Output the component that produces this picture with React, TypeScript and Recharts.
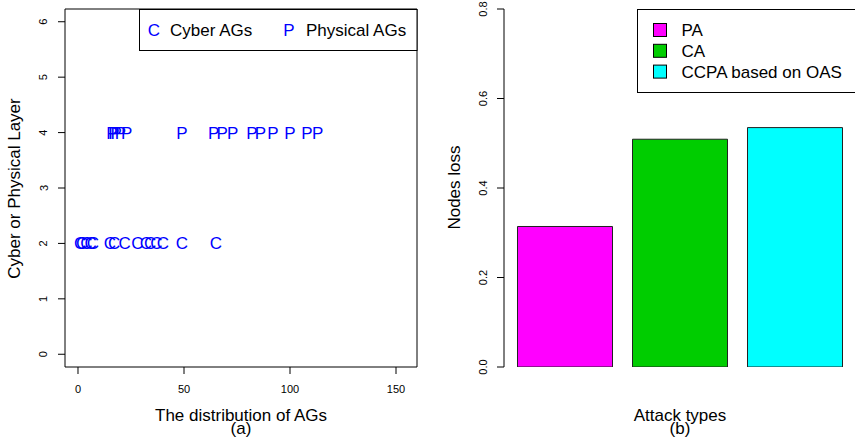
import React from "react";
import {
  Bar,
  BarChart,
  Cell,
  ReferenceArea,
  Scatter,
  ScatterChart,
  XAxis,
  YAxis
} from "recharts";

const FONT = "'Liberation Sans', Arial, Helvetica, sans-serif";

// (a) distribution of attack graphs: x position of each AG, layer 2 = cyber, 4 = physical
const cyberAGs = [1, 2, 4, 6, 7, 15, 17, 22, 28, 32, 34, 37, 40, 49, 65];
const physicalAGs = [16, 17, 18, 20, 23, 49, 64, 68, 73, 82, 86, 92, 100, 108, 113];
const CYBER_LAYER = 2;
const PHYSICAL_LAYER = 4;
const xTicksA = [0, 50, 100, 150];
const yTicksA = [0, 1, 2, 3, 4, 5, 6];

// (b) nodes loss per attack type
const attackTypes = ["PA", "CA", "CCPA based on OAS"];
const nodesLoss = [0.314, 0.509, 0.535];
const barColors = ["#ff00ff", "#00cd00", "#00ffff"];
const yTicksB = [0, 0.2, 0.4, 0.6, 0.8];

const cyberRows = cyberAGs.map((x) => ({ x, y: CYBER_LAYER }));
const physicalRows = physicalAGs.map((x) => ({ x, y: PHYSICAL_LAYER }));
const barRows = attackTypes.map((name, i) => ({ name, loss: nodesLoss[i] }));

const X_DOMAIN: [number, number] = [-6.13, 159.9];
const Y_DOMAIN: [number, number] = [-0.23, 6.23];

function RotatedTick(props: any) {
  const { x, y, payload, shift, digits } = props;
  const bx = x - shift;
  const v = digits ? Number(payload.value).toFixed(digits) : payload.value;
  return (
    <text
      x={bx}
      y={y}
      transform={`rotate(-90 ${bx} ${y})`}
      textAnchor="middle"
      fontSize={11}
      fontFamily={FONT}
      fill="#000"
    >
      {v}
    </text>
  );
}

function BottomTick(props: any) {
  const { x, y, payload } = props;
  return (
    <text x={x} y={y + 17} textAnchor="middle" fontSize={11} fontFamily={FONT} fill="#000">
      {payload.value}
    </text>
  );
}

function letter(ch: string) {
  return (props: any) => (
    <text
      x={props.cx}
      y={props.cy + 6}
      textAnchor="middle"
      fontSize={17}
      fontFamily={FONT}
      fill="#0000ff"
    >
      {ch}
    </text>
  );
}

export default function App() {
  return (
    <div
      style={{
        position: "absolute",
        left: 0,
        top: 0,
        width: 855,
        height: 442,
        overflow: "hidden",
        background: "#fff",
        fontFamily: FONT
      }}
    >
      <div style={{ position: "absolute", left: 0, top: 0 }}>
        <ScatterChart
          width={430}
          height={442}
          margin={{ top: 9, right: 13, bottom: 0, left: 0 }}
        >
          <XAxis
            type="number"
            dataKey="x"
            domain={X_DOMAIN}
            ticks={xTicksA}
            allowDataOverflow
            axisLine={false}
            tickLine={{ stroke: "#000" }}
            tickSize={7}
            height={75}
            tick={<BottomTick />}
            interval={0}
          />
          <YAxis
            type="number"
            dataKey="y"
            domain={Y_DOMAIN}
            ticks={yTicksA}
            allowDataOverflow
            axisLine={false}
            tickLine={{ stroke: "#000" }}
            tickSize={7}
            width={65}
            tick={<RotatedTick shift={8.5} />}
            interval={0}
          />
          <ReferenceArea
            x1={X_DOMAIN[0]}
            x2={X_DOMAIN[1]}
            y1={Y_DOMAIN[0]}
            y2={Y_DOMAIN[1]}
            fill="none"
            stroke="#000"
            strokeWidth={1}
            ifOverflow="visible"
          />
          <Scatter
            name="Cyber AGs"
            data={cyberRows}
            shape={letter("C")}
            isAnimationActive={false}
          />
          <Scatter
            name="Physical AGs"
            data={physicalRows}
            shape={letter("P")}
            isAnimationActive={false}
          />
        </ScatterChart>
      </div>

      <div style={{ position: "absolute", left: 430, top: 0 }}>
        <BarChart
          width={430}
          height={442}
          data={barRows}
          margin={{ top: 9, right: 4, bottom: 75, left: 0 }}
        >
          <XAxis dataKey="name" hide padding={{ left: 3.5, right: 3.5 }} />
          <YAxis
            type="number"
            domain={[0, 0.8]}
            ticks={yTicksB}
            allowDataOverflow
            axisLine={{ stroke: "#000" }}
            tickLine={{ stroke: "#000" }}
            tickSize={7}
            width={74}
            tick={<RotatedTick shift={8} digits={1} />}
            interval={0}
          />
          <Bar
            dataKey="loss"
            barSize={95}
            stroke="#222"
            strokeWidth={1}
            isAnimationActive={false}
          >
            {barRows.map((r, i) => (
              <Cell key={r.name} fill={barColors[i]} />
            ))}
          </Bar>
        </BarChart>
      </div>

      <svg
        width={855}
        height={442}
        style={{ position: "absolute", left: 0, top: 0, pointerEvents: "none" }}
        fontFamily={FONT}
      >
        {/* panel (a) titles */}
        <text x={19.5} y={188.5} transform="rotate(-90 19.5 188.5)" textAnchor="middle" fontSize={17}>
          Cyber or Physical Layer
        </text>
        <text x={241} y={420.5} textAnchor="middle" fontSize={17}>
          The distribution of AGs
        </text>
        <text x={241} y={434} textAnchor="middle" fontSize={17}>
          (a)
        </text>

        {/* panel (a) legend */}
        <rect x={139.5} y={9.5} width={277.5} height={41} fill="#fff" stroke="#000" />
        <text x={154} y={35.5} textAnchor="middle" fontSize={17} fill="#0000ff">C</text>
        <text x={170} y={35.5} fontSize={17}>Cyber AGs</text>
        <text x={289} y={35.5} textAnchor="middle" fontSize={17} fill="#0000ff">P</text>
        <text x={306} y={35.5} fontSize={17}>Physical AGs</text>

        {/* panel (b) titles */}
        <text x={460} y={187.5} transform="rotate(-90 460 187.5)" textAnchor="middle" fontSize={17}>
          Nodes loss
        </text>
        <text x={680} y={420.5} textAnchor="middle" fontSize={17}>
          Attack types
        </text>
        <text x={680} y={434} textAnchor="middle" fontSize={17}>
          (b)
        </text>

        {/* panel (b) legend */}
        <rect x={637.5} y={9.5} width={230} height={83} fill="#fff" stroke="#000" />
        {attackTypes.map((name, i) => (
          <g key={name}>
            <rect
              x={653.5}
              y={23.5 + i * 20.8}
              width={13}
              height={13}
              fill={barColors[i]}
              stroke="#000"
            />
            <text x={681.5} y={36.2 + i * 20.8} fontSize={17}>
              {name}
            </text>
          </g>
        ))}
      </svg>
    </div>
  );
}
